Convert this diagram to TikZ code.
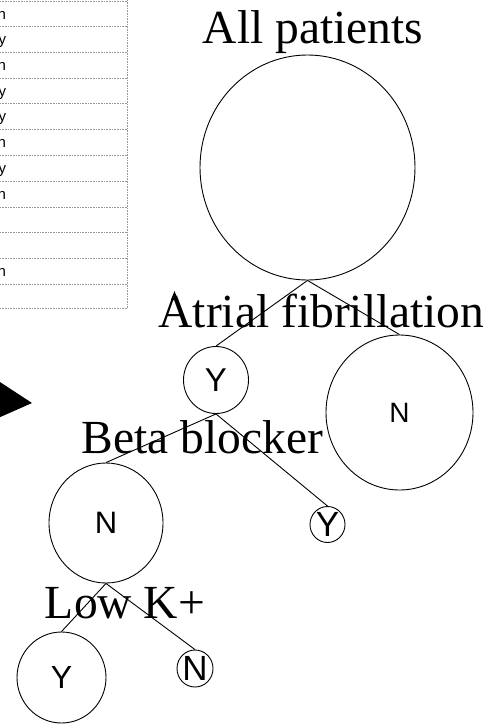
\documentclass[tikz,border=0pt]{standalone}
\usepackage{fontspec}
\setmainfont{Liberation Serif}
\setsansfont{Liberation Sans}
\usetikzlibrary{shapes.geometric}
\tikzset{
  split/.style={font=\fontsize{47.5}{50}\selectfont, inner sep=0pt, anchor=base},
  leaf/.style={draw, ellipse, inner sep=0pt, font=\sffamily\fontsize{#1}{#1}\selectfont},
  leaf/.default=30,
  cell/.style={font=\sffamily\fontsize{15}{15}\selectfont, inner sep=0pt, anchor=base east},
  grid/.style={gray!80, densely dotted, line width=0.6pt},
}
\begin{document}
\begin{tikzpicture}[x=1pt, y=-1pt, line width=0.9pt]
	\useasboundingbox (0,0) rectangle (503,726);
	% table of cases, cut at the left
	\foreach \y in {1,26,52,78,103,129,155,181,207,232,258,284,308}
		\draw[grid] (0,\y) -- (127,\y);
	\draw[grid] (127,0) -- (127,308);
	\foreach \v/\y in {n/19, y/44, n/70, y/96, y/121, n/147, y/173, n/199, n/276}
		\node[cell] (row\y) at (6.5,\y) {\v};
	\fill (-20,369) -- (32,403) -- (-20,426) -- cycle;
	\fill (171,300) -- (174.5,291) -- (178,300) -- cycle;
	% tree
	\node[leaf, minimum width=215pt, minimum height=225pt] (all) at (307.5,167.5) {};
	\node[leaf=33, minimum width=65pt, minimum height=67pt] (af-y) at (216,380) {Y};
	\node[leaf=28, minimum width=147pt, minimum height=155pt] (af-n) at (399.5,412.5) {N};
	\node[leaf=31, minimum width=114pt, minimum height=120pt] (bb-n) at (106,523) {N};
	\node[leaf=35, minimum width=35pt, minimum height=36pt] (bb-y) at (327.5,524.5) {Y};
	\node[leaf=32, minimum width=89pt, minimum height=91pt] (k-y) at (61.5,677.5) {Y};
	\node[leaf=35, minimum width=36pt, minimum height=37pt] (k-n) at (195,668.5) {N};
	\draw (all.south) -- (af-y.north);
	\draw (all.south) -- (af-n.north);
	\draw (af-y.south) -- (bb-n.north);
	\draw (af-y.south) -- (bb-y.north);
	\draw (bb-n.south) -- (k-y.north);
	\draw (bb-n.south) -- (k-n.north);
	\node[split] (all-lab) at (313,43) {All patients};
	\node[split] (af-lab) at (321.5,327) {Atrial fibrillation};
	\node[split] (bb-lab) at (202.5,453) {Beta blocker};
	\node[split] (k-lab) at (125,618) {Low K+};
\end{tikzpicture}
\end{document}
